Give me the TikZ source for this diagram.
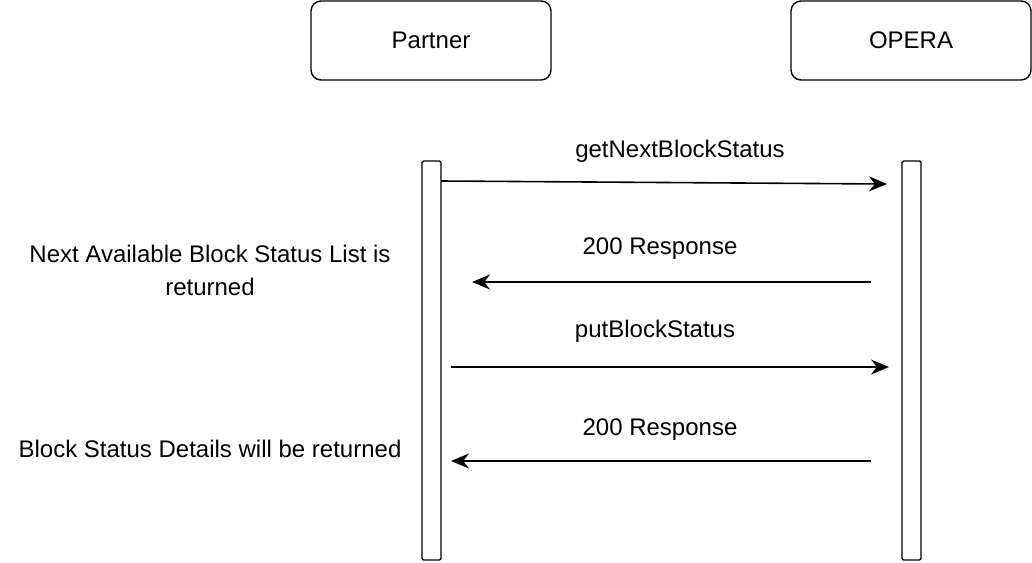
\documentclass[tikz,border=0pt]{standalone}
\usepackage{fontspec}
\setmainfont{Liberation Sans}
\usetikzlibrary{arrows.meta}
\begin{document}
\begin{tikzpicture}[x=1pt,y=-1pt,
  actor/.style={draw,rounded corners=10pt,line width=1.4pt,minimum width=240pt,minimum height=79pt,font=\fontsize{24}{29}\selectfont},
  life/.style={draw,line width=1.4pt,minimum width=19pt,minimum height=399pt,inner sep=0pt,rounded corners=1.5pt},
  msg/.style={line width=1.6pt,-{Stealth[length=18pt,width=15pt]}},
  lbl/.style={font=\fontsize{24}{33}\selectfont,align=center}]
\useasboundingbox (0,0) rectangle (1032,562);
\node[actor] (p) at (431,40.5) {Partner};
\node[actor] (o) at (911,40.5) {OPERA};
\node[life] (pl) at (431.5,360.5) {};
\node[life] (ol) at (911.5,360.5) {};
\coordinate (a1s) at (441,181); \coordinate (a1e) at (887,184);
\coordinate (a2s) at (871,282); \coordinate (a2e) at (472,282);
\coordinate (a3s) at (451,367); \coordinate (a3e) at (889,367);
\coordinate (a4s) at (871,461); \coordinate (a4e) at (451,461);
\draw[msg] (a1s) -- (a1e);
\draw[msg] (a2s) -- (a2e);
\draw[msg] (a3s) -- (a3e);
\draw[msg] (a4s) -- (a4e);
\node[lbl] (l1) at (680,151) {getNextBlockStatus};
\node[lbl] (l2) at (660,249) {200 Response};
\node[lbl] (l3) at (655,331) {putBlockStatus};
\node[lbl] (l4) at (660,430) {200 Response};
\node[lbl] (n1) at (210,270) {Next Available Block Status List is\\returned};
\node[lbl] (n2) at (210,449) {Block Status Details will be returned};
\end{tikzpicture}
\end{document}
